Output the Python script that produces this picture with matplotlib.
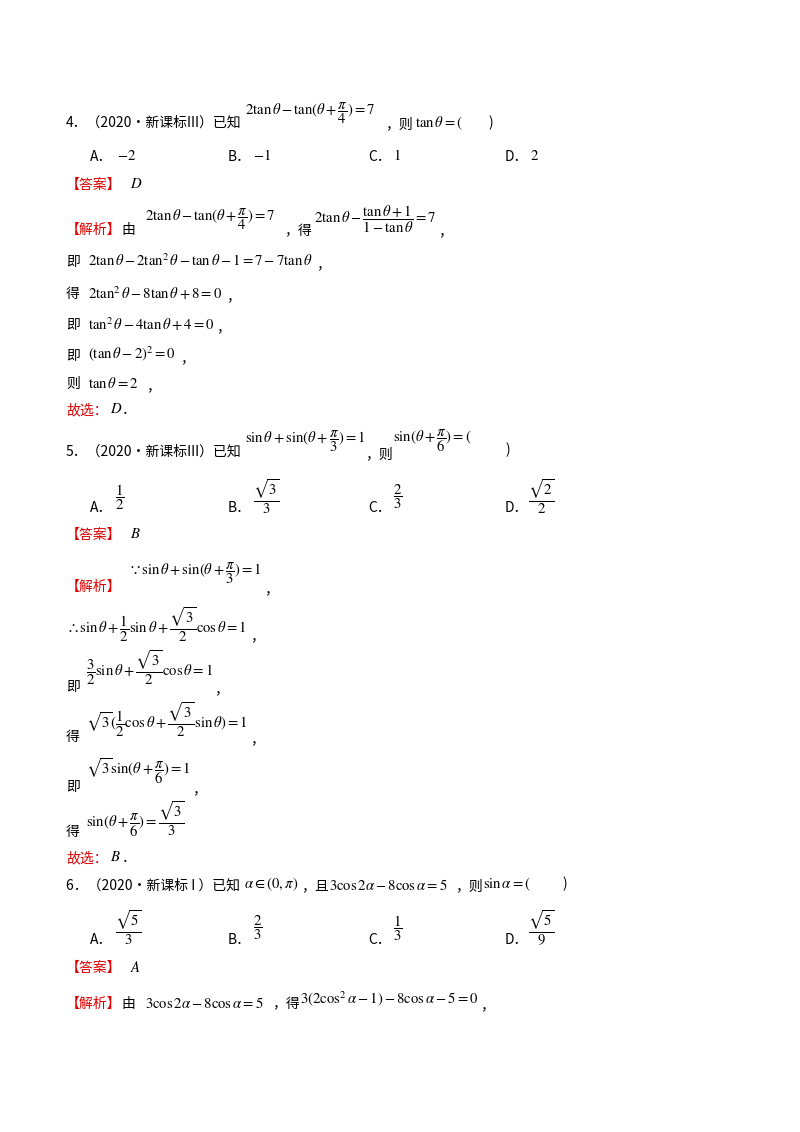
import matplotlib
matplotlib.use("Agg")
import matplotlib.pyplot as plt

plt.rcParams['font.family'] = ['Noto Sans CJK SC', 'DejaVu Sans']
plt.rcParams['mathtext.fontset'] = 'stix'

RED = '#e00000'
K = 'black'
# (x_px, y_px, text, color)
items = [
 (66,123,"4．（2020•新课标III）已知",K),(245,113,r"$2\tan\theta-\tan(\theta+\dfrac{\pi}{4})=7$",K),
 (385,124,"，则",K),(415,123,r"$\tan\theta=($",K),(488,123,")",K),
 (90,157,"A．",K),(117,156,r"$-2$",K),(228,157,"B．",K),(253,156,r"$-1$",K),
 (368,157,"C．",K),(393,156,r"$1$",K),(505,157,"D．",K),(530,156,r"$2$",K),
 (66,185,"【答案】",RED),(130,184,r"$D$",K),
 (66,230,"【解析】",RED),(121,230,"由",K),(145,219,r"$2\tan\theta-\tan(\theta+\dfrac{\pi}{4})=7$",K),
 (284,231,"，得",K),(314,219,r"$2\tan\theta-\dfrac{\tan\theta+1}{1-\tan\theta}=7$",K),(438,231,"，",K),
 (66,262,"即",K),(88,261,r"$2\tan\theta-2\tan^2\theta-\tan\theta-1=7-7\tan\theta$",K),(316,264,"，",K),
 (66,294,"得",K),(88,293,r"$2\tan^2\theta-8\tan\theta+8=0$",K),(226,296,"，",K),
 (66,325,"即",K),(88,324,r"$\tan^2\theta-4\tan\theta+4=0$",K),(216,327,"，",K),
 (66,356,"即",K),(88,354,r"$(\tan\theta-2)^2=0$",K),(180,358,"，",K),
 (66,384,"则",K),(88,383,r"$\tan\theta=2$",K),(146,386,"，",K),
 (66,410,"故选：",RED),(110,409,r"$D$",K),(122,410,"．",K),
 (66,452,"5．（2020•新课标III）已知",K),(245,441,r"$\sin\theta+\sin(\theta+\dfrac{\pi}{3})=1$",K),
 (365,454,"，则",K),(393,441,r"$\sin(\theta+\dfrac{\pi}{6})=($",K),(505,450,")",K),
 (90,508,"A．",K),(115,497,r"$\dfrac{1}{2}$",K),(228,508,"B．",K),(253,497,r"$\dfrac{\sqrt{3}}{3}$",K),
 (368,508,"C．",K),(393,497,r"$\dfrac{2}{3}$",K),(505,508,"D．",K),(528,497,r"$\dfrac{\sqrt{2}}{2}$",K),
 (66,535,"【答案】",RED),(130,534,r"$B$",K),
 (66,587,"【解析】",RED),(128,573,r"$\because\sin\theta+\sin(\theta+\dfrac{\pi}{3})=1$",K),(264,589,"，",K),
 (66,625,r"$\therefore\sin\theta+\dfrac{1}{2}\sin\theta+\dfrac{\sqrt{3}}{2}\cos\theta=1$",K),(250,636,"，",K),
 (66,687,"即",K),(86,668,r"$\dfrac{3}{2}\sin\theta+\dfrac{\sqrt{3}}{2}\cos\theta=1$",K),(214,689,"，",K),
 (66,737,"得",K),(86,720,r"$\sqrt{3}(\dfrac{1}{2}\cos\theta+\dfrac{\sqrt{3}}{2}\sin\theta)=1$",K),(250,739,"，",K),
 (66,787,"即",K),(86,771,r"$\sqrt{3}\sin(\theta+\dfrac{\pi}{6})=1$",K),(192,789,"，",K),
 (66,832,"得",K),(86,819,r"$\sin(\theta+\dfrac{\pi}{6})=\dfrac{\sqrt{3}}{3}$",K),
 (66,858,"故选：",RED),(110,857,r"$B$",K),(122,858,"．",K),
 (66,886,"6．（2020•新课标 I ）已知",K),(244,884,r"$\alpha\in(0,\pi)$",K),(301,886,"，且",K),
 (329,885,r"$3\cos2\alpha-8\cos\alpha=5$",K),(455,886,"，则",K),(483,884,r"$\sin\alpha=($",K),(562,884,")",K),
 (90,940,"A．",K),(115,928,r"$\dfrac{\sqrt{5}}{3}$",K),(228,940,"B．",K),(253,928,r"$\dfrac{2}{3}$",K),
 (368,940,"C．",K),(393,928,r"$\dfrac{1}{3}$",K),(505,940,"D．",K),(528,928,r"$\dfrac{\sqrt{5}}{9}$",K),
 (66,968,"【答案】",RED),(130,967,r"$A$",K),
 (66,1004,"【解析】",RED),(121,1004,"由",K),(145,1003,r"$3\cos2\alpha-8\cos\alpha=5$",K),
 (272,1004,"，得",K),(300,999,r"$3(2\cos^2\alpha-1)-8\cos\alpha-5=0$",K),(480,1005,"，",K),
]

fig = plt.figure(figsize=(8, 11.32), dpi=100)
fig.patch.set_facecolor('white')
for x, y, t, c in items:
    fs = 10.6 if t.startswith('$') else 10
    fig.text(x/800, 1 - y/1132, t, color=c, fontsize=fs, va='center', ha='left')
fig.savefig('out.png', dpi=100, facecolor='white')
